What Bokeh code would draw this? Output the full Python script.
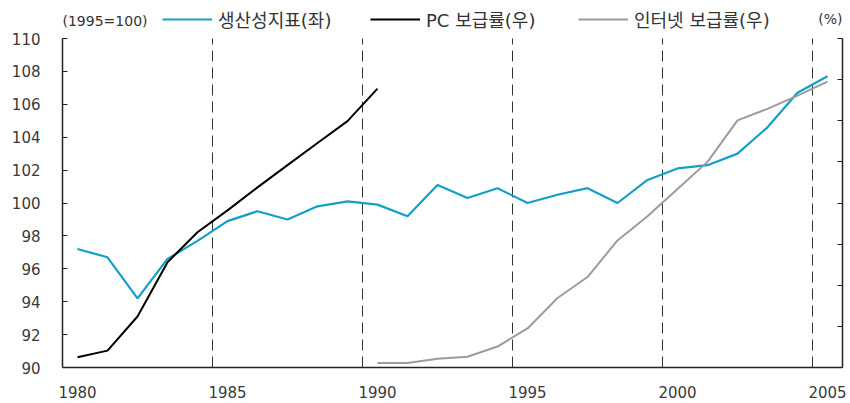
from bokeh.plotting import figure
from bokeh.models import Range1d, LinearAxis, FixedTicker, Legend, LegendItem, Label
from bokeh.embed import file_html
from bokeh.resources import INLINE

# ---- data ----
years = list(range(1980, 2006))
productivity = [97.2, 96.7, 94.2, 96.6, 97.7, 98.9, 99.5, 99.0, 99.8, 100.1,
                99.9, 99.2, 101.1, 100.3, 100.9, 100.0, 100.5, 100.9, 100.0, 101.4,
                102.1, 102.3, 103.0, 104.6, 106.7, 107.7]
pc_years = list(range(1980, 1991))
pc_rate = [2.5, 4.1, 12.4, 25.6, 32.9, 38.2, 43.8, 49.2, 54.6, 59.9, 67.8]
net_years = list(range(1990, 2006))
net_rate = [1.1, 1.1, 2.1, 2.6, 5.1, 9.5, 16.9, 22.0, 30.9, 36.8,
            43.4, 50.0, 60.1, 62.9, 66.1, 69.5]
x_ticks = [1980, 1985, 1990, 1995, 2000, 2005]
divider_ticks = [1984.5, 1989.5, 1994.5, 1999.5, 2004.5]
left_ticks = list(range(90, 111, 2))
right_ticks = list(range(0, 81, 10))
left_bounds = (90, 110)
right_bounds = (0, 80)
labels = ["생산성지표(좌)", "PC 보급률(우)", "인터넷 보급률(우)"]

BLUE = "#13a0c8"
GRAY = "#9c9c9c"
NUM_FONT = "DejaVu Sans"
LEG_FONT = "DejaVu Sans, Noto Sans CJK KR"

# layout: frame spans full height above x axis; axes drawn only over their bounds
FRAME_H = 367          # px, frame height
AXIS_H = 329           # px, height of the 90..110 band
ext = FRAME_H / AXIS_H
y_top = left_bounds[0] + (left_bounds[1] - left_bounds[0]) * ext
r_top = right_bounds[0] + (right_bounds[1] - right_bounds[0]) * ext

p = figure(width=850, height=403, output_backend="svg", toolbar_location=None,
           x_range=Range1d(1979.5, 2005.5), y_range=Range1d(left_bounds[0], y_top),
           min_border_left=62, min_border_right=8, min_border_top=0, min_border_bottom=36)
p.extra_y_ranges = {"right": Range1d(right_bounds[0], r_top)}
p.outline_line_color = None
p.background_fill_color = "white"
p.border_fill_color = "white"

# axes
p.xaxis.ticker = FixedTicker(ticks=x_ticks)
p.xaxis.major_tick_in = 0
p.xaxis.major_tick_out = 0
p.xaxis.minor_tick_line_color = None
p.xaxis.major_label_standoff = 18
p.xaxis.major_label_text_font = NUM_FONT
p.xaxis.major_label_text_font_size = "15px"
p.xaxis.major_label_text_color = "#3a3a3a"
p.xaxis.axis_line_width = 1.5
p.xaxis.axis_line_color = "#222222"

p.yaxis.ticker = FixedTicker(ticks=left_ticks)
p.yaxis.bounds = left_bounds
p.yaxis.major_tick_in = 5
p.yaxis.major_tick_out = 0
p.yaxis.minor_tick_line_color = None
p.yaxis.major_label_standoff = 22
p.yaxis.major_label_text_font = NUM_FONT
p.yaxis.major_label_text_font_size = "15px"
p.yaxis.major_label_text_color = "#3a3a3a"
p.yaxis.axis_line_width = 1.5
p.yaxis.axis_line_color = "#222222"
p.yaxis.major_tick_line_color = "#222222"

raxis = LinearAxis(y_range_name="right", ticker=FixedTicker(ticks=right_ticks),
                   bounds=right_bounds,
                   major_tick_in=5, major_tick_out=0, minor_tick_line_color=None,
                   major_label_overrides={t: "" for t in right_ticks},
                   major_label_standoff=0,
                   axis_line_width=1.5, axis_line_color="#222222",
                   major_tick_line_color="#222222")
p.add_layout(raxis, "right")

# grids
p.ygrid.grid_line_color = None
p.xgrid.ticker = FixedTicker(ticks=divider_ticks)
p.xgrid.grid_line_color = "#333333"
p.xgrid.grid_line_dash = "11 6"
p.xgrid.grid_line_width = 1
p.xgrid.cross_bounds = left_bounds

# lines
r1 = p.line(years, productivity, line_color=BLUE, line_width=2.2)
r2 = p.line(pc_years, pc_rate, y_range_name="right", line_color="black", line_width=2)
r3 = p.line(net_years, net_rate, y_range_name="right", line_color=GRAY, line_width=2)

legend = Legend(items=[LegendItem(label=lab, renderers=[r]) for lab, r in zip(labels, [r1, r2, r3])],
                location=(100, FRAME_H - 32), orientation="horizontal",
                background_fill_alpha=0, border_line_alpha=0,
                padding=0, margin=0, spacing=2, glyph_width=50, glyph_height=20,
                label_height=20, label_width=150, label_standoff=6,
                label_text_font=LEG_FONT, label_text_font_size="18px",
                label_text_color="#333333")
p.add_layout(legend, "center")

p.add_layout(Label(x=0, y=FRAME_H - 20, x_units="screen", y_units="screen",
                   text="(1995=100)", text_font=NUM_FONT, text_font_size="14px",
                   text_baseline="middle", text_align="left", text_color="#333333"))
p.add_layout(Label(x=780, y=FRAME_H - 18, x_units="screen", y_units="screen",
                   text="(%)", text_font=NUM_FONT, text_font_size="14px",
                   text_baseline="middle", text_align="right", text_color="#333333"))

open("out.html", "w").write(file_html(p, INLINE))
